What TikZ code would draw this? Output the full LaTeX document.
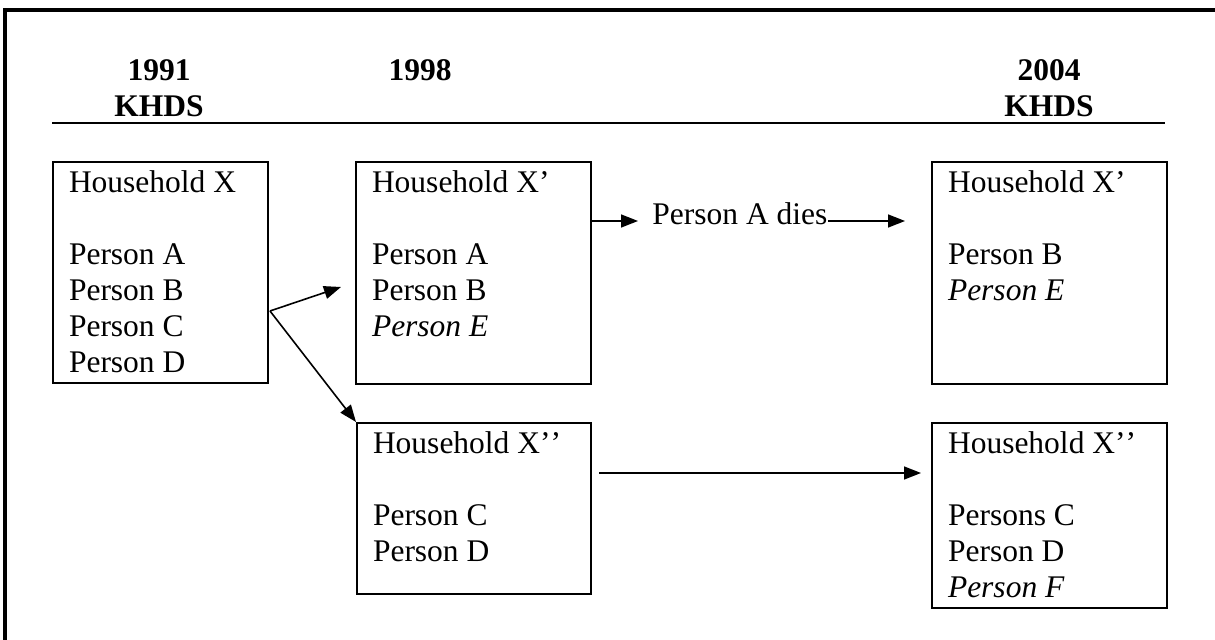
\documentclass[tikz,border=0pt]{standalone}
\usepackage{fontspec}
\setmainfont{Liberation Serif}
\usetikzlibrary{arrows.meta, positioning}
\newcommand{\hhfont}{\fontsize{15.75pt}{18pt}\selectfont}
\newcommand{\hhlist}[3]{\parbox[c][#2][t]{#1}{\raggedright\rule{0pt}{15.5pt}#3}}
\tikzstyle{hhbox} = [draw, line width=1pt, anchor=north west, inner xsep=8pt, inner ysep=0pt]
\tikzstyle{yearhead} = [font=\hhfont\bfseries, align=center, anchor=north, inner sep=0pt]
\tikzstyle{arrow} = [line width=0.8pt, -{Triangle[length=8.5pt, width=6.5pt]}]

\begin{document}
\begin{tikzpicture}[x=0.5pt, y=-0.5pt, font=\hhfont]
    \useasboundingbox (0,0) rectangle (1215,640);
    % Frame
    \draw[line width=2pt] (5,650) -- (5,10) -- (1225,10);

    % Header
    \node[yearhead] (y1991) at (159,59) {1991\\KHDS};
    \node[yearhead] (y1998) at (420,59) {1998};
    \node[yearhead] (y2004) at (1049,59) {2004\\KHDS};
    \draw[line width=1pt] (52,123) -- (1165,123);

    % Households
    \node[hhbox] (hhX) at (52,161) {\hhlist{91.5pt}{110.5pt}{Household X\\[18pt]Person A\\Person B\\Person C\\Person D}};
    \node[hhbox] (hhXp) at (355,161) {\hhlist{101.5pt}{111pt}{Household X'\\[18pt]Person A\\Person B\\\textit{Person E}}};
    \node[hhbox] (hhXq) at (931,161) {\hhlist{101.5pt}{111pt}{Household X'\\[18pt]Person B\\\textit{Person E}}};
    \node[hhbox] (hhXpp) at (356,422) {\hhlist{101pt}{85.5pt}{Household X'\kern0pt'\\[18pt]Person C\\Person D}};
    \node[hhbox] (hhXqq) at (931,422) {\hhlist{101.5pt}{92.5pt}{Household X'\kern0pt'\\[18pt]Persons C\\Person D\\\textit{Person F}}};

    % Split of household X
    \coordinate (split) at (270,311);
    \coordinate (toXp) at (341,287);
    \draw[arrow] (split) -- (toXp);
    \draw[arrow] (split) -- (hhXpp.north west);

    % Person A dies
    \node[anchor=base west, inner sep=0pt] (dies) at (652,225) {Person A dies};
    \coordinate (diesIn) at (638,221);
    \coordinate (diesOut) at (905,221);
    \draw[arrow] (hhXp.east |- diesIn) -- (diesIn);
    \draw[arrow] (dies.east |- diesOut) -- (diesOut);

    % X'' kept
    \coordinate (keptOut) at (599,473);
    \coordinate (keptIn) at (921,473);
    \draw[arrow] (keptOut) -- (keptIn);
\end{tikzpicture}
\end{document}
